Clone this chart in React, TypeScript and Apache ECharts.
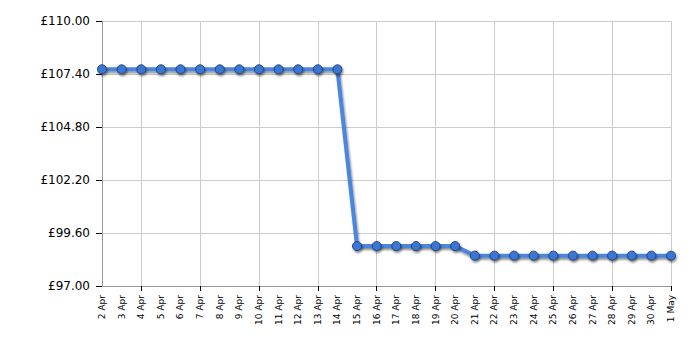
import React, { useEffect, useRef } from "react";
import * as echarts from "echarts";

const categories = [
  "2 Apr", "3 Apr", "4 Apr", "5 Apr", "6 Apr", "7 Apr", "8 Apr", "9 Apr", "10 Apr",
  "11 Apr", "12 Apr", "13 Apr", "14 Apr", "15 Apr", "16 Apr", "17 Apr", "18 Apr",
  "19 Apr", "20 Apr", "21 Apr", "22 Apr", "23 Apr", "24 Apr", "25 Apr", "26 Apr",
  "27 Apr", "28 Apr", "29 Apr", "30 Apr", "1 May",
];

const prices = [
  107.63, 107.63, 107.63, 107.63, 107.63, 107.63, 107.63, 107.63, 107.63, 107.63,
  107.63, 107.63, 107.63,
  98.96, 98.96, 98.96, 98.96, 98.96, 98.96,
  98.49, 98.49, 98.49, 98.49, 98.49, 98.49, 98.49, 98.49, 98.49, 98.49, 98.49,
];

const yMin = 97;
const yMax = 110;
const yStep = 2.6;

export default function App() {
  const ref = useRef<HTMLDivElement>(null);
  useEffect(() => {
    if (!ref.current) return;
    const chart = echarts.init(ref.current, undefined, { renderer: "svg" });
    const tickEvery = (i: number) => i % 3 === 2;
    chart.setOption({
      animation: false,
      backgroundColor: "#ffffff",
      grid: { left: 102, right: 29, top: 21, bottom: 64, containLabel: false },
      xAxis: {
        type: "category",
        data: categories,
        boundaryGap: false,
        axisLine: { lineStyle: { color: "#999999", width: 1 } },
        axisTick: {
          show: true,
          interval: (i: number) => tickEvery(i),
          length: 5,
          lineStyle: { color: "#000000" },
        },
        axisLabel: {
          interval: 0,
          rotate: 90,
          margin: 9,
          fontFamily: "DejaVu Sans",
          fontSize: 9,
          color: "#000000",
        },
        splitLine: {
          show: true,
          interval: (i: number) => tickEvery(i),
          lineStyle: { color: "#cccccc", width: 1 },
        },
      },
      yAxis: {
        type: "value",
        min: yMin,
        max: yMax,
        interval: yStep,
        axisLine: { show: true, lineStyle: { color: "#999999", width: 1 } },
        axisTick: { show: true, length: 6, lineStyle: { color: "#000000" } },
        axisLabel: {
          margin: 12,
          fontFamily: "DejaVu Sans",
          fontSize: 12,
          color: "#000000",
          formatter: (v: number) => "£" + v.toFixed(2),
        },
        splitLine: { show: true, lineStyle: { color: "#cccccc", width: 1 } },
      },
      series: [
        {
          type: "line",
          data: prices,
          symbol: "circle",
          symbolSize: 9,
          lineStyle: {
            color: "#4a86dc",
            width: 4,
            shadowColor: "rgba(0,0,0,0.45)",
            shadowBlur: 2,
            shadowOffsetX: 1,
            shadowOffsetY: 2,
          },
          itemStyle: {
            color: "#3a77d2",
            borderColor: "#1e4380",
            borderWidth: 1,
            shadowColor: "rgba(0,0,0,0.45)",
            shadowBlur: 2,
            shadowOffsetX: 1,
            shadowOffsetY: 2,
          },
        },
      ],
    });
    return () => chart.dispose();
  }, []);
  return <div ref={ref} style={{ width: 700, height: 350, position: "absolute", left: 0, top: 0 }} />;
}
